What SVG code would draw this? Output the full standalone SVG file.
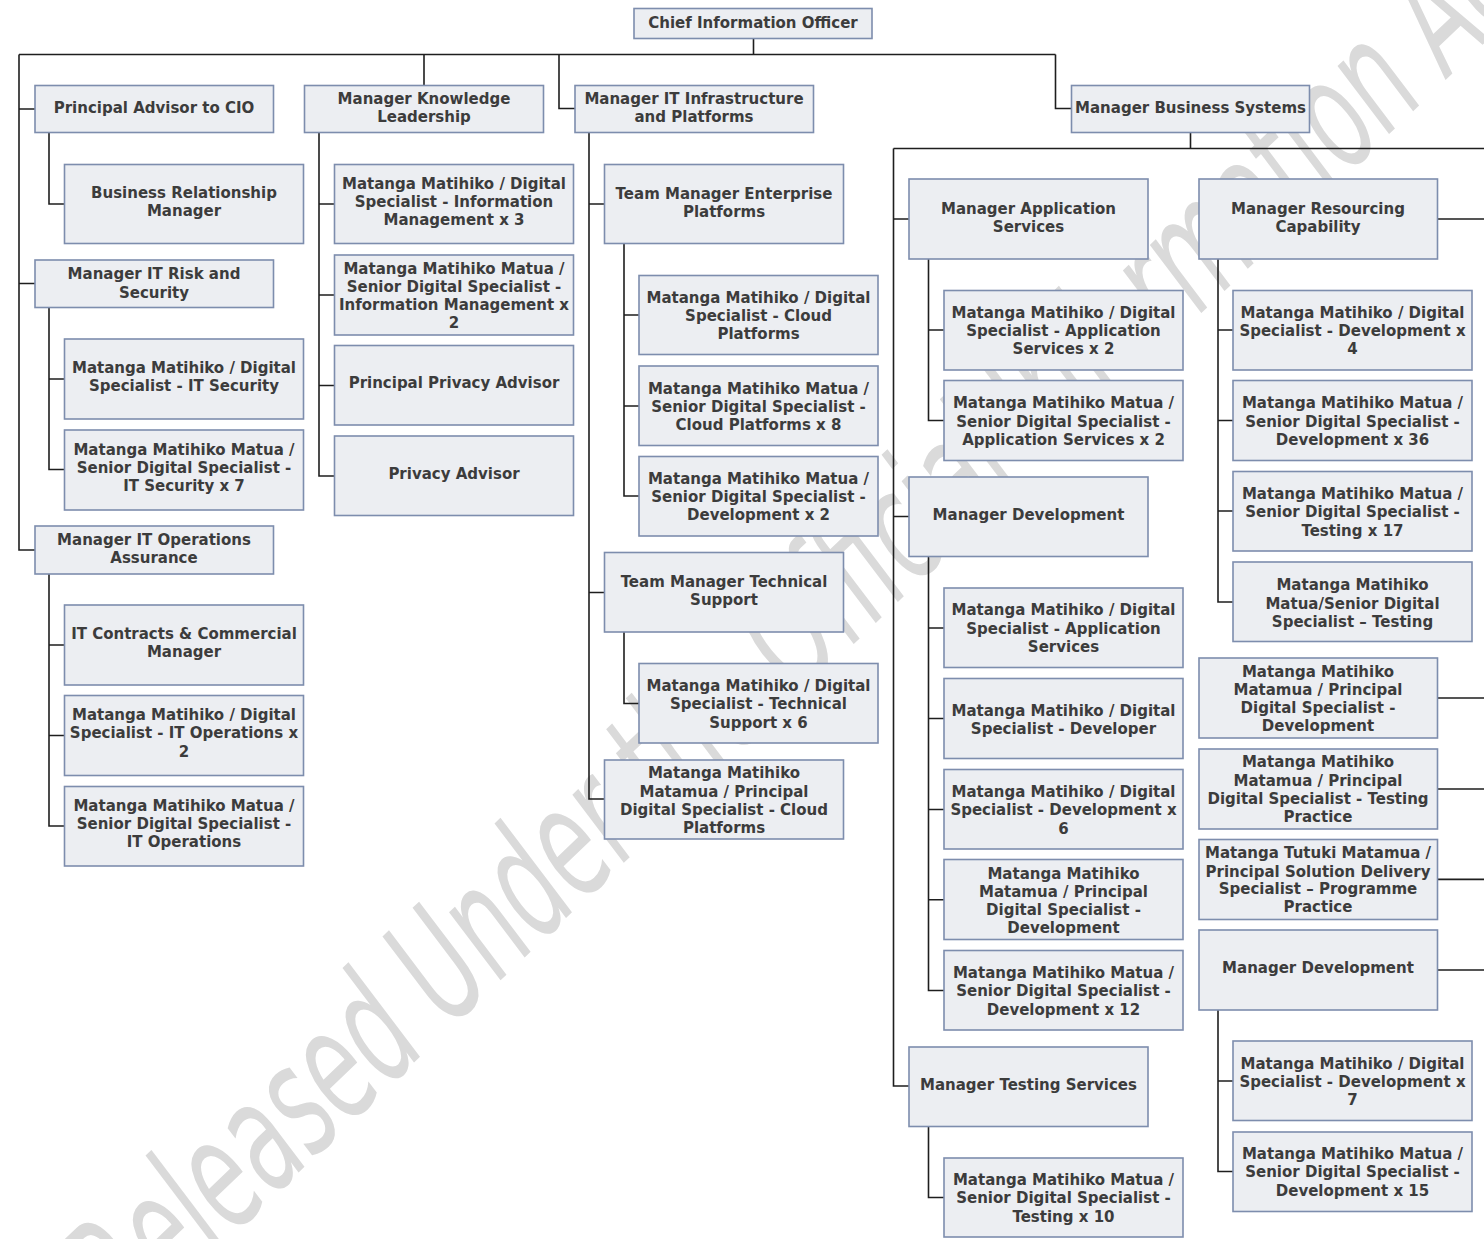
<svg xmlns="http://www.w3.org/2000/svg" width="1484" height="1239" viewBox="0 0 1484 1239">
<style>
.b{fill:#ECEEF2;stroke:#7D8DAD;stroke-width:1.6}
.t{font-family:"DejaVu Sans",Verdana,sans-serif;font-weight:bold;font-size:15px;fill:#3C3C3C;text-anchor:middle}
.c{fill:none;stroke:#1E1E1E;stroke-width:1.6}
.w{font-family:"DejaVu Sans",sans-serif;font-style:oblique;font-size:155px;fill:#DADADA}
</style>
<rect width="1484" height="1239" fill="#FFFFFF"/>
<g id="watermark"><text class="w" transform="translate(129 1334) rotate(-43.6)" textLength="1970" lengthAdjust="spacingAndGlyphs">Released Under the Official Information Act</text></g>
<g id="connectors" class="c">
<path d="M753.5 38.5V54.5M19 54.5H1055.5M19 54.5V550H35M19 109H35M19 283.5H35"/>
<path d="M49 132.5V204H64.5M49 307.5V469.5H64.5M49 379H64.5M49 574V826H64.5M49 645H64.5M49 735.5H64.5"/>
<path d="M424 54.5V85.5M319 132.5V476H334.5M319 204H334.5M319 295H334.5M319 385.5H334.5"/>
<path d="M559 54.5V108.5H575M589 132.5V799H604.5M589 204H604.5M589 592.5H604.5M624 243.5V496H639M624 315H639M624 406H639M624 632V703.5H639"/>
<path d="M1055.5 54.5V108.5H1071.5M1190.5 132.5V148.5M893.5 148.5H1484M893.5 148.5V1086H909M893.5 219H909M893.5 516.5H909"/>
<path d="M928.5 259V420.5H944M928.5 330H944M928.5 556.7V990.5H944M928.5 628H944M928.5 718.5H944M928.5 809.5H944M928.5 899.7H944M928.5 1126.5V1197.5H944"/>
<path d="M1437.5 219H1484M1218 259V602H1233M1218 330H1233M1218 420.5H1233M1218 511H1233M1437.5 698H1484M1437.5 789H1484M1437.5 879.4H1484M1437.5 970H1484M1218 1010V1171.5H1233M1218 1081H1233"/>
</g>
<g id="cio"><rect class="b" x="634" y="8.5" width="238" height="30"/><text class="t" x="753" y="28">Chief Information Officer</text></g>
<g id="principal-advisor"><rect class="b" x="35" y="85.5" width="238.5" height="47"/><text class="t" x="154" y="113">Principal Advisor to CIO</text></g>
<g id="mgr-knowledge"><rect class="b" x="304.5" y="85.5" width="239" height="47"/><text class="t" x="424" y="104">Manager Knowledge<tspan x="424" dy="18">Leadership</tspan></text></g>
<g id="mgr-infra"><rect class="b" x="575" y="85.5" width="238.5" height="47"/><text class="t" x="694" y="104">Manager IT Infrastructure<tspan x="694" dy="18">and Platforms</tspan></text></g>
<g id="mgr-business"><rect class="b" x="1071.5" y="85.5" width="238" height="47"/><text class="t" x="1190.5" y="113">Manager Business Systems</text></g>

<g id="brm"><rect class="b" x="64.5" y="164.5" width="239" height="79"/><text class="t" x="184" y="198">Business Relationship<tspan x="184" dy="18">Manager</tspan></text></g>
<g id="mgr-risk"><rect class="b" x="35" y="260" width="238.5" height="47.5"/><text class="t" x="154" y="279">Manager IT Risk and<tspan x="154" dy="18.5">Security</tspan></text></g>
<g id="it-sec"><rect class="b" x="64.5" y="339" width="239" height="80"/><text class="t" x="184" y="373">Matanga Matihiko / Digital<tspan x="184" dy="18">Specialist - IT Security</tspan></text></g>
<g id="sen-it-sec"><rect class="b" x="64.5" y="430" width="239" height="80"/><text class="t" x="184" y="455">Matanga Matihiko Matua /<tspan x="184" dy="18">Senior Digital Specialist -</tspan><tspan x="184" dy="18">IT Security x 7</tspan></text></g>
<g id="mgr-ops"><rect class="b" x="35" y="526" width="238.5" height="48"/><text class="t" x="154" y="545">Manager IT Operations<tspan x="154" dy="18">Assurance</tspan></text></g>
<g id="contracts"><rect class="b" x="64.5" y="605" width="239" height="80"/><text class="t" x="184" y="639">IT Contracts &amp; Commercial<tspan x="184" dy="18">Manager</tspan></text></g>
<g id="it-ops"><rect class="b" x="64.5" y="695.5" width="239" height="80"/><text class="t" x="184" y="720">Matanga Matihiko / Digital<tspan x="184" dy="18">Specialist - IT Operations x</tspan><tspan x="184" dy="18.5">2</tspan></text></g>
<g id="sen-it-ops"><rect class="b" x="64.5" y="786.5" width="239" height="79.5"/><text class="t" x="184" y="811">Matanga Matihiko Matua /<tspan x="184" dy="18">Senior Digital Specialist -</tspan><tspan x="184" dy="18">IT Operations</tspan></text></g>

<g id="info-mgmt"><rect class="b" x="334.5" y="164.5" width="239" height="79"/><text class="t" x="454" y="189">Matanga Matihiko / Digital<tspan x="454" dy="18">Specialist - Information</tspan><tspan x="454" dy="18">Management x 3</tspan></text></g>
<g id="sen-info-mgmt"><rect class="b" x="334.5" y="255" width="239" height="80"/><text class="t" x="454" y="274">Matanga Matihiko Matua /<tspan x="454" dy="18">Senior Digital Specialist -</tspan><tspan x="454" dy="18">Information Management x</tspan><tspan x="454" dy="18">2</tspan></text></g>
<g id="principal-privacy"><rect class="b" x="334.5" y="345.5" width="239" height="79.5"/><text class="t" x="454" y="388">Principal Privacy Advisor</text></g>
<g id="privacy"><rect class="b" x="334.5" y="436" width="239" height="79.5"/><text class="t" x="454" y="479">Privacy Advisor</text></g>

<g id="tm-enterprise"><rect class="b" x="604.5" y="164.5" width="239" height="79"/><text class="t" x="724" y="199">Team Manager Enterprise<tspan x="724" dy="18">Platforms</tspan></text></g>
<g id="cloud"><rect class="b" x="639" y="275.5" width="239" height="79"/><text class="t" x="758.5" y="303">Matanga Matihiko / Digital<tspan x="758.5" dy="18">Specialist - Cloud</tspan><tspan x="758.5" dy="18">Platforms</tspan></text></g>
<g id="sen-cloud"><rect class="b" x="639" y="366" width="239" height="79.5"/><text class="t" x="758.5" y="393.5">Matanga Matihiko Matua /<tspan x="758.5" dy="18">Senior Digital Specialist -</tspan><tspan x="758.5" dy="18">Cloud Platforms x 8</tspan></text></g>
<g id="sen-dev-infra"><rect class="b" x="639" y="456.5" width="239" height="79.5"/><text class="t" x="758.5" y="484">Matanga Matihiko Matua /<tspan x="758.5" dy="18">Senior Digital Specialist -</tspan><tspan x="758.5" dy="18">Development x 2</tspan></text></g>
<g id="tm-tech"><rect class="b" x="604.5" y="552.5" width="239" height="79.5"/><text class="t" x="724" y="587">Team Manager Technical<tspan x="724" dy="18">Support</tspan></text></g>
<g id="tech-support"><rect class="b" x="639" y="663.5" width="239" height="79.5"/><text class="t" x="758.5" y="690.5">Matanga Matihiko / Digital<tspan x="758.5" dy="18.5">Specialist - Technical</tspan><tspan x="758.5" dy="18.5">Support x 6</tspan></text></g>
<g id="principal-cloud"><rect class="b" x="604.5" y="760" width="239" height="79"/><text class="t" x="724" y="778">Matanga Matihiko<tspan x="724" dy="18.5">Matamua / Principal</tspan><tspan x="724" dy="18">Digital Specialist - Cloud</tspan><tspan x="724" dy="18.5">Platforms</tspan></text></g>

<g id="mgr-app"><rect class="b" x="909" y="179" width="239" height="80"/><text class="t" x="1028.5" y="214">Manager Application<tspan x="1028.5" dy="18">Services</tspan></text></g>
<g id="app-x2"><rect class="b" x="944" y="290.5" width="239" height="79.5"/><text class="t" x="1063.5" y="318">Matanga Matihiko / Digital<tspan x="1063.5" dy="18">Specialist - Application</tspan><tspan x="1063.5" dy="18">Services x 2</tspan></text></g>
<g id="sen-app-x2"><rect class="b" x="944" y="380.5" width="239" height="80"/><text class="t" x="1063.5" y="408">Matanga Matihiko Matua /<tspan x="1063.5" dy="18.5">Senior Digital Specialist -</tspan><tspan x="1063.5" dy="18">Application Services x 2</tspan></text></g>
<g id="mgr-dev"><rect class="b" x="909" y="477" width="239" height="79.5"/><text class="t" x="1028.5" y="520">Manager Development</text></g>
<g id="dev-app"><rect class="b" x="944" y="588" width="239" height="79.5"/><text class="t" x="1063.5" y="615">Matanga Matihiko / Digital<tspan x="1063.5" dy="18.5">Specialist - Application</tspan><tspan x="1063.5" dy="18">Services</tspan></text></g>
<g id="developer"><rect class="b" x="944" y="678.5" width="239" height="80"/><text class="t" x="1063.5" y="716">Matanga Matihiko / Digital<tspan x="1063.5" dy="17.5">Specialist - Developer</tspan></text></g>
<g id="dev-x6"><rect class="b" x="944" y="769.5" width="239" height="79.5"/><text class="t" x="1063.5" y="797">Matanga Matihiko / Digital<tspan x="1063.5" dy="18">Specialist - Development x</tspan><tspan x="1063.5" dy="18.5">6</tspan></text></g>
<g id="principal-dev1"><rect class="b" x="944" y="859.5" width="239" height="80"/><text class="t" x="1063.5" y="879">Matanga Matihiko<tspan x="1063.5" dy="18">Matamua / Principal</tspan><tspan x="1063.5" dy="18">Digital Specialist -</tspan><tspan x="1063.5" dy="18">Development</tspan></text></g>
<g id="sen-dev-x12"><rect class="b" x="944" y="950.5" width="239" height="79.5"/><text class="t" x="1063.5" y="978">Matanga Matihiko Matua /<tspan x="1063.5" dy="18">Senior Digital Specialist -</tspan><tspan x="1063.5" dy="19">Development x 12</tspan></text></g>
<g id="mgr-testing"><rect class="b" x="909" y="1047" width="239" height="79.5"/><text class="t" x="1028.5" y="1090">Manager Testing Services</text></g>
<g id="sen-test-x10"><rect class="b" x="944" y="1158" width="239" height="79"/><text class="t" x="1063.5" y="1185">Matanga Matihiko Matua /<tspan x="1063.5" dy="18">Senior Digital Specialist -</tspan><tspan x="1063.5" dy="19">Testing x 10</tspan></text></g>

<g id="mgr-resourcing"><rect class="b" x="1199" y="179" width="238.5" height="80"/><text class="t" x="1318" y="214">Manager Resourcing<tspan x="1318" dy="18">Capability</tspan></text></g>
<g id="dev-x4"><rect class="b" x="1233" y="290.5" width="239" height="79.5"/><text class="t" x="1352.5" y="318">Matanga Matihiko / Digital<tspan x="1352.5" dy="18">Specialist - Development x</tspan><tspan x="1352.5" dy="18">4</tspan></text></g>
<g id="sen-dev-x36"><rect class="b" x="1233" y="380.5" width="239" height="80"/><text class="t" x="1352.5" y="408">Matanga Matihiko Matua /<tspan x="1352.5" dy="18.5">Senior Digital Specialist -</tspan><tspan x="1352.5" dy="18">Development x 36</tspan></text></g>
<g id="sen-test-x17"><rect class="b" x="1233" y="471.5" width="239" height="79.5"/><text class="t" x="1352.5" y="499">Matanga Matihiko Matua /<tspan x="1352.5" dy="18">Senior Digital Specialist -</tspan><tspan x="1352.5" dy="19">Testing x 17</tspan></text></g>
<g id="matua-testing"><rect class="b" x="1233" y="562" width="239" height="79.5"/><text class="t" x="1352.5" y="590">Matanga Matihiko<tspan x="1352.5" dy="18.5">Matua/Senior Digital</tspan><tspan x="1352.5" dy="18.5">Specialist – Testing</tspan></text></g>
<g id="principal-dev2"><rect class="b" x="1199" y="658" width="238.5" height="80"/><text class="t" x="1318" y="677">Matanga Matihiko<tspan x="1318" dy="18">Matamua / Principal</tspan><tspan x="1318" dy="18">Digital Specialist -</tspan><tspan x="1318" dy="18">Development</tspan></text></g>
<g id="principal-testing"><rect class="b" x="1199" y="749" width="238.5" height="80"/><text class="t" x="1318" y="767">Matanga Matihiko<tspan x="1318" dy="18.5">Matamua / Principal</tspan><tspan x="1318" dy="18">Digital Specialist - Testing</tspan><tspan x="1318" dy="18">Practice</tspan></text></g>
<g id="tutuki"><rect class="b" x="1199" y="839.5" width="238.5" height="80"/><text class="t" x="1318" y="858">Matanga Tutuki Matamua /<tspan x="1318" dy="18.5">Principal Solution Delivery</tspan><tspan x="1318" dy="17.5">Specialist – Programme</tspan><tspan x="1318" dy="18">Practice</tspan></text></g>
<g id="mgr-dev2"><rect class="b" x="1199" y="930" width="238.5" height="80"/><text class="t" x="1318" y="973">Manager Development</text></g>
<g id="dev-x7"><rect class="b" x="1233" y="1041" width="239" height="79.5"/><text class="t" x="1352.5" y="1069">Matanga Matihiko / Digital<tspan x="1352.5" dy="18">Specialist - Development x</tspan><tspan x="1352.5" dy="18">7</tspan></text></g>
<g id="sen-dev-x15"><rect class="b" x="1233" y="1132" width="239" height="79.5"/><text class="t" x="1352.5" y="1159">Matanga Matihiko Matua /<tspan x="1352.5" dy="18">Senior Digital Specialist -</tspan><tspan x="1352.5" dy="19">Development x 15</tspan></text></g>
</svg>
